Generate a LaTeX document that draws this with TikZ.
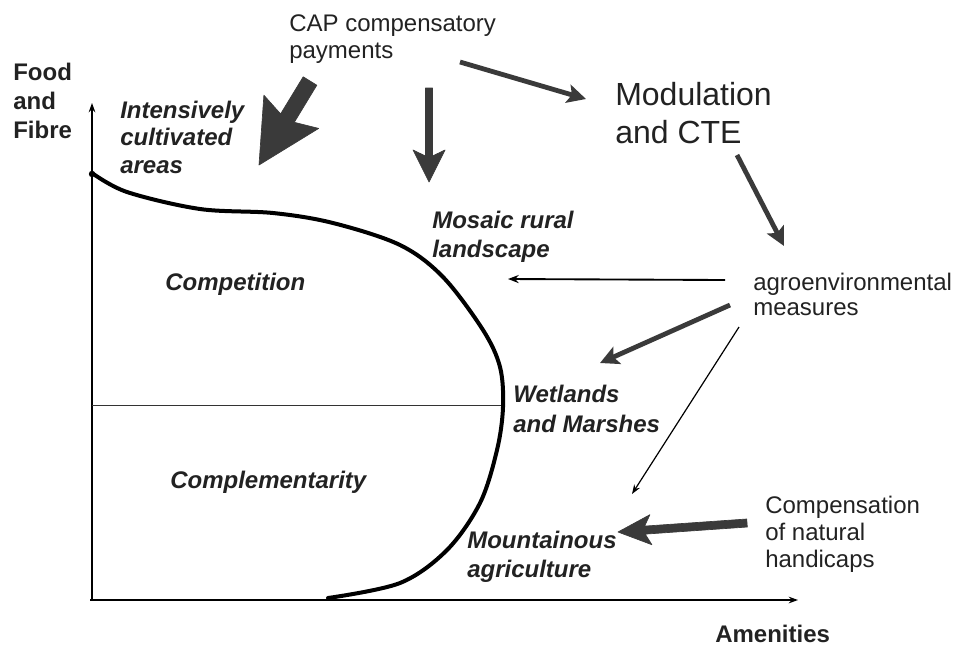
\documentclass[tikz,border=0pt]{standalone}
\usepackage{fontspec}
\setmainfont{Liberation Sans}
\usetikzlibrary{arrows.meta}
\definecolor{ink}{HTML}{222222}
\definecolor{fat}{HTML}{3A3A3A}
\begin{document}
\begin{tikzpicture}[x=0.75pt,y=-0.75pt,
  lbl/.style={inner sep=0pt, anchor=base west, align=left, text=ink},
  reg/.style={lbl, font=\fontsize{18}{18.75}\selectfont},
  regb/.style={lbl, font=\fontsize{18}{20.25}\selectfont},
  axlbl/.style={lbl, font=\fontsize{18}{21.75}\selectfont\bfseries},
  itlbl/.style={lbl, font=\fontsize{18}{21.75}\selectfont\bfseries\itshape},
  axisline/.style={draw=black, line width=1.1pt, -{Stealth[length=7pt,width=5pt]}},
  curveline/.style={draw=black, line width=3pt, line cap=round, line join=round},
  midarrow/.style={draw=fat, line width=3.6pt, -{Stealth[length=14pt,width=14pt,inset=3pt]}},
  thinarrow/.style={draw=black, line width=1.4pt, -{Stealth[length=8pt,width=6pt]}},
  hairarrow/.style={draw=black, line width=0.9pt, -{Stealth[length=7pt,width=5pt]}},
  fatshape/.style={fill=fat, draw=fat, line width=0.5pt, line join=round}
]
\useasboundingbox (0,0) rectangle (962,651);

% axes
\coordinate (O) at (92,600);
\coordinate (ytop) at (92,103);
\coordinate (xend) at (798,600);
\coordinate (xstart) at (90,600);
\draw[axisline] (O) -- (ytop);
\draw[axisline] (xstart) -- (xend);

% divider
\coordinate (divL) at (92,405);
\coordinate (divR) at (503,405);
\draw[black!80, line width=0.75pt] (divL) -- (divR);

% frontier curve
\draw[curveline] plot[smooth, tension=0.55] coordinates {
  (92,173) (127,192) (200,209) (273,213) (333,223) (400,245) (443,277)
  (483,330) (500,367) (503,407) (497,450) (480,503) (447,550) (400,583) (328,598)};
\fill[black] (92,174) circle[radius=3.2];

% labels (anchor = baseline of the last line)
\node[axlbl] (food) at (13,138) {Food\\and\\Fibre};
\node[axlbl] (amen) at (715,642) {Amenities};
\node[itlbl, font=\fontsize{18}{20.6}\selectfont\bfseries\itshape] (intens) at (120,173) {Intensively\\cultivated\\areas};
\node[reg, font=\fontsize{18}{20.25}\selectfont] (cap) at (289,58) {CAP compensatory\\payments};
\node[lbl, font=\fontsize{24}{28.5}\selectfont] (modul) at (615,143) {Modulation\\and CTE};
\node[itlbl] (mosaic) at (432,257) {Mosaic rural\\landscape};
\node[reg] (agro) at (753,315) {agroenvironmental\\measures};
\node[itlbl, font=\fontsize{18}{22.5}\selectfont\bfseries\itshape] (wet) at (513,432) {Wetlands\\and Marshes};
\node[itlbl] (compet) at (165,290) {Competition};
\node[itlbl] (compl) at (170,488) {Complementarity};
\node[itlbl] (mount) at (467,577) {Mountainous\\agriculture};
\node[regb] (compens) at (765,567) {Compensation\\of natural\\handicaps};

% fat arrow CAP -> intensively cultivated areas
\coordinate (a1tip) at (259,165);
\fill[fatshape] (316.8,85.2) -- (303.2,76.8) -- (280.6,113.9) -- (263.9,95.2)
  -- (a1tip) -- (318.7,128.4) -- (294.3,122.3) -- cycle;

% vertical arrow CAP -> mosaic
\coordinate (a2tip) at (429,182);
\fill[fatshape] (425.5,88) -- (432.5,88) -- (432.5,156) -- (445,150) -- (a2tip)
  -- (413,150) -- (425.5,156) -- cycle;

% CAP -> Modulation
\coordinate (a3s) at (460,62);
\coordinate (a3e) at (586,99);
\draw[midarrow] (a3s) -- (a3e);

% Modulation -> agro
\coordinate (a4s) at (737,155);
\coordinate (a4e) at (784,246);
\draw[midarrow] (a4s) -- (a4e);

% agro -> mosaic (thin)
\coordinate (a5s) at (725,280);
\coordinate (a5e) at (508,279);
\draw[thinarrow] (a5s) -- (a5e);

% agro -> wetlands
\coordinate (a6s) at (730,305);
\coordinate (a6e) at (600,363);
\draw[midarrow] (a6s) -- (a6e);

% agro -> mountainous (hairline)
\coordinate (a7s) at (739,327);
\coordinate (a7e) at (632,494);
\draw[hairarrow] (a7s) -- (a7e);

% compensation -> mountainous (fat)
\coordinate (a8tip) at (618,532);
\fill[fatshape] (747.3,527) -- (645.2,534.1) -- (651.9,544.7) -- (a8tip)
  -- (649.9,514.7) -- (644.6,526.1) -- (746.7,519) -- cycle;

\end{tikzpicture}
\end{document}
